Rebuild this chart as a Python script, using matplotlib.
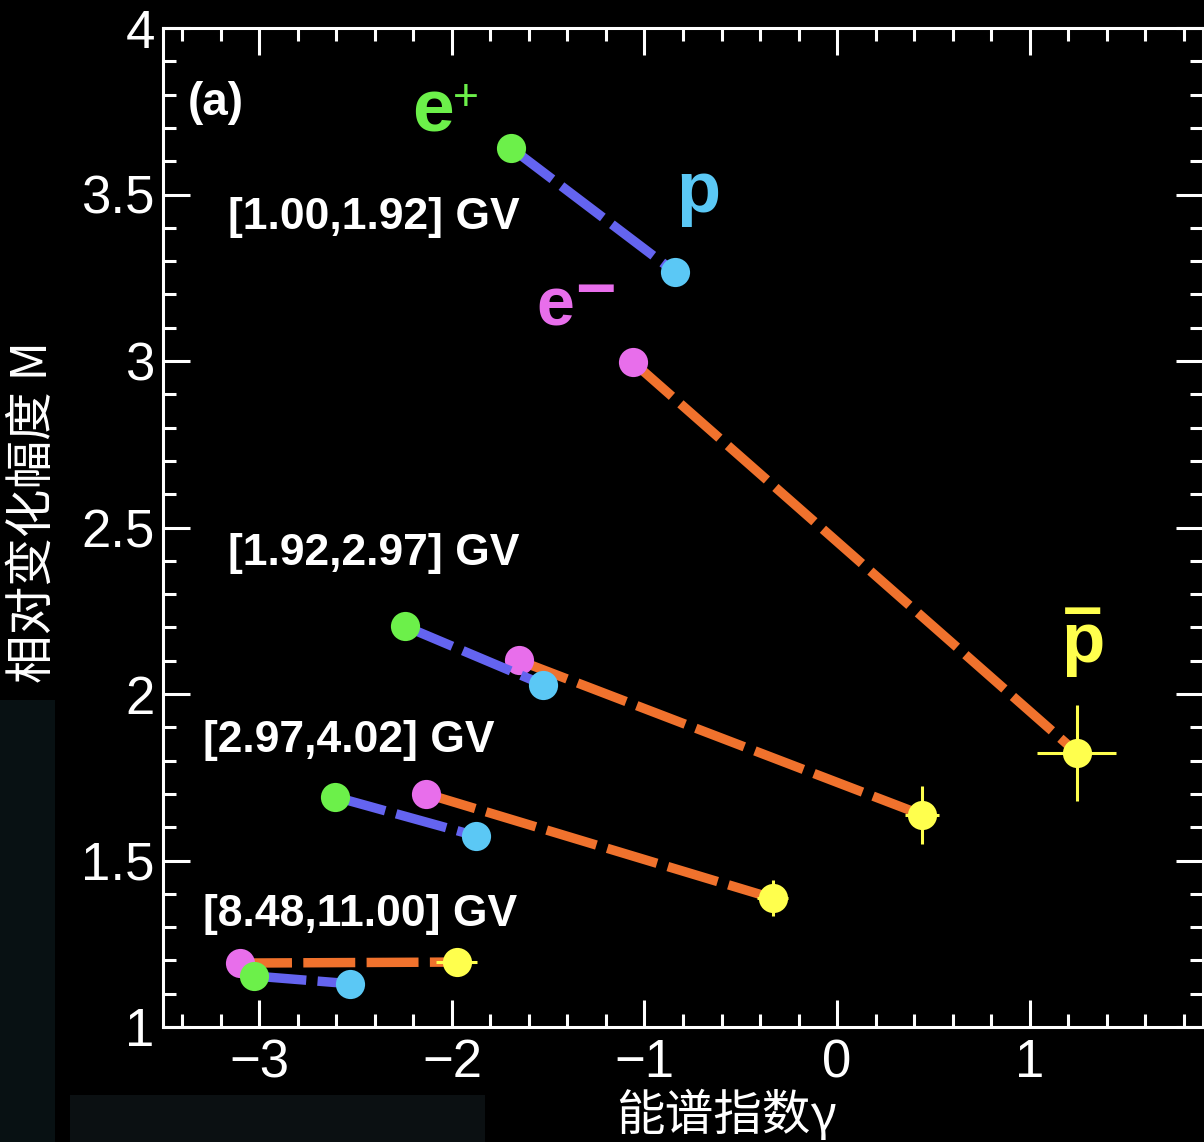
import matplotlib

matplotlib.use("Agg")
import matplotlib.pyplot as plt
from matplotlib.patches import Rectangle
from matplotlib.ticker import MultipleLocator

# rigidity bins
RANGES = ["[1.00,1.92] GV", "[1.92,2.97] GV", "[2.97,4.02] GV", "[8.48,11.00] GV"]

# spectral index gamma and relative modulation amplitude M per species
POS_GAMMA = [-1.693, -2.246, -2.606, -3.025]
POS_M = [3.640, 2.204, 1.691, 1.153]
ELE_GAMMA = [-1.060, -1.654, -2.137, -3.100]
ELE_M = [2.997, 2.101, 1.701, 1.192]
PRO_GAMMA = [-0.842, -1.525, -1.876, -2.529]
PRO_M = [3.267, 2.028, 1.574, 1.130]
APRO_GAMMA = [1.244, 0.441, -0.335, -1.976]
APRO_M = [1.824, 1.637, 1.387, 1.195]
APRO_GAMMA_ERR = [0.205, 0.09, 0.08, 0.107]
APRO_M_ERR = [0.144, 0.086, 0.055, 0.02]

C_POS = "#6cf04a"
C_ELE = "#e86eeb"
C_PRO = "#5bc8f5"
C_APRO = "#ffff4d"
C_LINE_PRO = "#6464f0"
C_LINE_APRO = "#f0722d"

plt.rcParams.update(
    {
        "font.family": ["Liberation Sans", "DejaVu Sans"],
        "figure.facecolor": "black",
        "axes.facecolor": "black",
        "axes.edgecolor": "white",
        "axes.linewidth": 2.2,
    }
)

fig = plt.figure(figsize=(12.04, 11.42), dpi=100)

# faint panels behind the lower-left corner
fig.patches.append(Rectangle((0, 0), 55 / 1204, 442 / 1142, transform=fig.transFigure,
                             facecolor="#081113", edgecolor="none", zorder=0))
fig.patches.append(Rectangle((70 / 1204, 0), 415 / 1204, 47 / 1142, transform=fig.transFigure,
                             facecolor="#0b1012", edgecolor="none", zorder=0))

ax = fig.add_axes([163 / 1204, 1 - 1027 / 1142, 1040 / 1204, 999 / 1142])
ax.set_xlim(-3.5, 1.9)
ax.set_ylim(1, 4)

line_kw = dict(linewidth=6.8, dashes=(5.5, 1.2), solid_capstyle="butt")
mk = dict(linestyle="none", marker="o", markersize=21, markeredgewidth=0)

# electron -> antiproton pairs first, proton pairs drawn over them
for i in range(len(RANGES)):
    ax.plot([ELE_GAMMA[i], APRO_GAMMA[i]], [ELE_M[i], APRO_M[i]],
            color=C_LINE_APRO, zorder=2, **line_kw)
ax.plot(ELE_GAMMA, ELE_M, color=C_ELE, zorder=3, **mk)
ax.errorbar(APRO_GAMMA, APRO_M, xerr=APRO_GAMMA_ERR, yerr=APRO_M_ERR, fmt="o",
            color=C_APRO, markersize=21, markeredgewidth=0, elinewidth=2.2,
            capsize=0, zorder=3)
for i in range(len(RANGES)):
    ax.plot([POS_GAMMA[i], PRO_GAMMA[i]], [POS_M[i], PRO_M[i]],
            color=C_LINE_PRO, zorder=4, **line_kw)
ax.plot(POS_GAMMA, POS_M, color=C_POS, zorder=5, **mk)
ax.plot(PRO_GAMMA, PRO_M, color=C_PRO, zorder=5, **mk)

# rigidity bin captions
range_xy = [(-3.163, 3.432), (-3.163, 2.423), (-3.292, 1.859), (-3.292, 1.339)]
for label, (tx, ty) in zip(RANGES, range_xy):
    ax.text(tx, ty, label, color="white", fontsize=32, fontweight="bold",
            ha="left", va="center")

ax.text(-3.370, 3.775, "(a)", color="white", fontsize=33, fontweight="bold",
        ha="left", va="center")

# species tags
ax.text(-2.096, 3.688, "e", color=C_POS, fontsize=54, fontweight="bold",
        ha="center", va="baseline")
ax.text(-1.929, 3.787, "+", color=C_POS, fontsize=32, ha="center", va="center")
ax.text(-0.722, 3.447, "p", color=C_PRO, fontsize=52, fontweight="bold",
        ha="center", va="baseline")
ax.text(-1.465, 3.108, "e", color=C_ELE, fontsize=49, fontweight="bold",
        ha="center", va="baseline")
ax.text(-1.254, 3.150, "\u2212", color=C_ELE, fontsize=50, fontweight="bold",
        ha="center", va="baseline")
# antiproton: bar stacked over p in one text
ax.text(1.277, 2.096, "\u2013\np", color=C_APRO, fontsize=51, fontweight="bold",
        ha="center", va="baseline", multialignment="center", linespacing=0.36)

ax.xaxis.set_major_locator(MultipleLocator(1))
ax.xaxis.set_minor_locator(MultipleLocator(0.2))
ax.yaxis.set_major_locator(MultipleLocator(0.5))
ax.yaxis.set_minor_locator(MultipleLocator(0.1))
ax.yaxis.set_major_formatter(plt.FuncFormatter(lambda v, _: f"{v:g}"))
ax.tick_params(which="both", direction="in", top=True, right=True,
               color="white", labelcolor="white", width=2.2, labelsize=38)
ax.tick_params(which="major", length=19.5)
ax.tick_params(which="minor", length=9.5)
ax.tick_params(axis="x", pad=8)
ax.tick_params(axis="y", pad=6)

cjk = ["Noto Sans CJK SC", "DejaVu Sans"]
fig.text(33 / 1204, 1 - 512 / 1142, "相对变化幅度 M", rotation=90, color="white",
         fontsize=35, family=cjk, fontweight="light", ha="center", va="center")
fig.text(727 / 1204, 1 - 1115 / 1142, "能谱指数γ", color="white", fontsize=35,
         family=cjk, fontweight="light", ha="center", va="center")

fig.savefig("out.png", dpi=100, facecolor="black")
